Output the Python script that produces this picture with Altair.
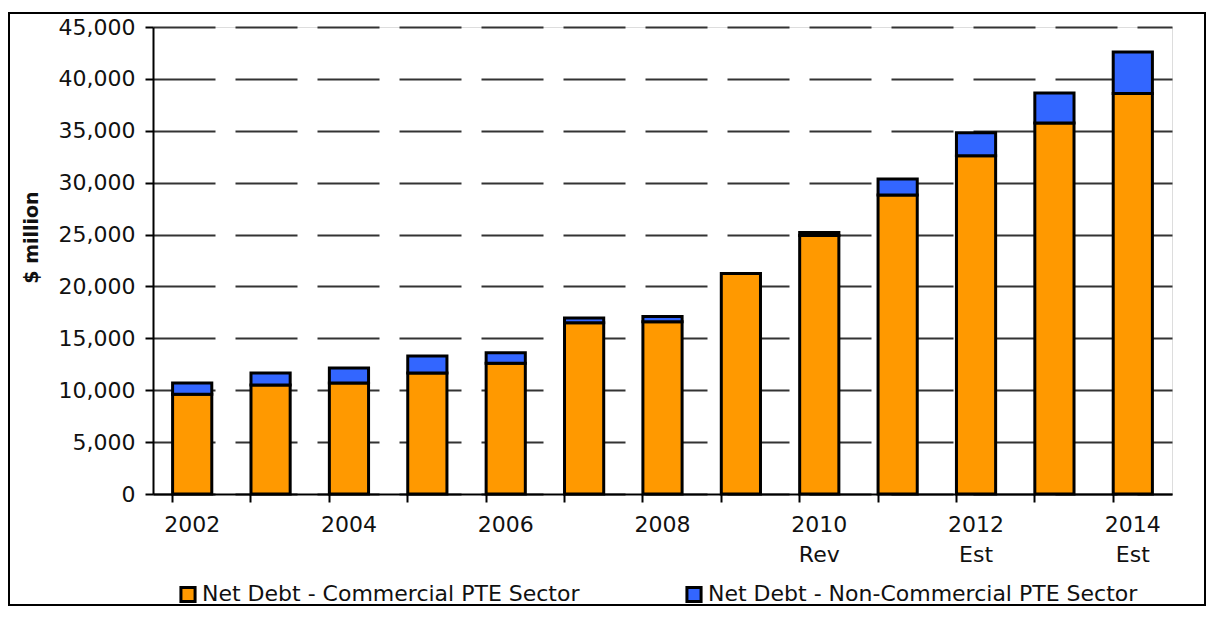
import altair as alt
import pandas as pd

categories = ["2002", "2003", "2004", "2005", "2006", "2007", "2008",
              "2009", "2010|Rev", "2011", "2012|Est", "2013", "2014|Est"]
commercial = [9600, 10500, 10700, 11650, 12600, 16500, 16600,
              21250, 24900, 28800, 32600, 35750, 38600]
non_commercial = [1100, 1150, 1450, 1650, 1000, 450, 500,
                  0, 300, 1550, 2200, 2900, 4000]
series_names = ["Net Debt - Commercial PTE Sector",
                "Net Debt - Non-Commercial PTE Sector"]
series_colors = ["#FF9900", "#3366FF"]

rows = []
for c, a, b in zip(categories, commercial, non_commercial):
    rows.append({"year": c, "series": series_names[0], "value": a, "ord": 0})
    rows.append({"year": c, "series": series_names[1], "value": b, "ord": 1})
df = pd.DataFrame(rows)

FONT = "DejaVu Sans"
FS = 22

bars = alt.Chart(df).mark_bar(stroke="black", strokeWidth=3).encode(
    x=alt.X("year:N", sort=categories, title=None,
            scale=alt.Scale(paddingInner=0.5, paddingOuter=0.25),
            axis=alt.Axis(
                bandPosition=0, labelAngle=0, grid=False,
                labelExpr="test(/^20(02|04|06|08|10|12|14)/, datum.value) ? split(datum.value, '|') : ''",
                labelFont=FONT, labelFontSize=FS, labelColor="#111111",
                labelPadding=12, labelLineHeight=30,
                domainColor="black", domainWidth=2,
                tickColor="black", tickWidth=2, tickSize=8)),
    y=alt.Y("value:Q", stack="zero", title="$ million",
            scale=alt.Scale(domain=[0, 45000], nice=False),
            axis=alt.Axis(
                values=list(range(0, 45001, 5000)), format=",d",
                labelFont=FONT, labelFontSize=FS, labelColor="#111111",
                labelPadding=10,
                titleFont=FONT, titleFontSize=19, titleFontWeight="bold",
                titleColor="#111111", titleX=-112, titleY=210,
                domainColor="black", domainWidth=2,
                tickColor="black", tickWidth=2, tickSize=8,
                grid=True, gridColor="#333333", gridWidth=2,
                gridDash=[62, 20])),
    color=alt.Color("series:N",
                    scale=alt.Scale(domain=series_names, range=series_colors),
                    legend=alt.Legend(
                        title=None, orient="none", direction="horizontal",
                        legendX=24, legendY=556,
                        symbolType="square", symbolSize=200,
                        symbolStrokeColor="black", symbolStrokeWidth=3,
                        symbolOpacity=1,
                        labelFont=FONT, labelFontSize=FS, labelColor="#111111",
                        labelLimit=600, labelOffset=3,
                        columnPadding=100)),
    order=alt.Order("ord:Q", sort="ascending"),
)

border = alt.Chart(pd.DataFrame({"a": [0]})).mark_rect(
    fill="transparent", stroke="black", strokeWidth=2).encode(
    x=alt.value(-144), x2=alt.value(1052),
    y=alt.value(-14), y2=alt.value(578))

chart = alt.layer(bars, border).properties(
    width=1019, height=467,
    autosize=alt.AutoSizeParams(type="none"),
    padding={"left": 145, "top": 19, "right": 35, "bottom": 112},
).configure_view(stroke=None).configure(background="white")

chart.save("out.html", embed_options={"renderer": "svg", "actions": False})
